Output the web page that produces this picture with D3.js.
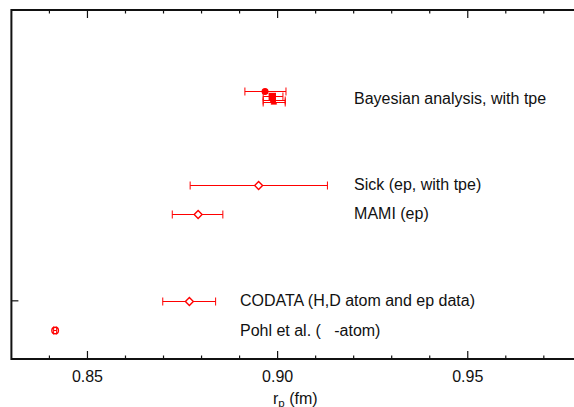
<!DOCTYPE html>
<html>
<head>
<meta charset="utf-8">
<script src="https://cdn.jsdelivr.net/npm/d3@7"></script>
<style>
  body { margin: 0; background: #fff; }
  text { font-family: "Liberation Sans", Arial, sans-serif; white-space: pre; }
</style>
</head>
<body>
<svg id="chart" width="574" height="407"></svg>
<script>
// measurements, rp in fm
var labels = ["Bayesian analysis, with tpe", "Sick (ep, with tpe)", "MAMI (ep)",
              "CODATA (H,D atom and ep data)", "Pohl et al. (\u00a0\u00a0\u00a0-atom)"];
var labelRow = [8.95, 6, 5, 2, 1];
var labelX = [0.9201, 0.9201, 0.9201, 0.8901, 0.8901];

var pointRow = [9.2, 9.05, 8.9, 8.82, 6, 5, 2, 1];
var pointVal = [0.8967, 0.8986, 0.8988, 0.8990, 0.8950, 0.8791, 0.8768, 0.8415];
var pointLo  = [0.8914, 0.8962, 0.8962, 0.8962, 0.8770, 0.8723, 0.8698, 0.8411];
var pointHi  = [0.9022, 0.9014, 0.9020, 0.9020, 0.9131, 0.8856, 0.8837, 0.8419];
var pointSym = ["circleFill", "squareFill", "tri", "tri", "diamond", "diamond", "diamond", "circle"];

var xMajor = [0.85, 0.90, 0.95];
var xMinor = [0.84, 0.85, 0.86, 0.87, 0.88, 0.89, 0.90, 0.91, 0.92, 0.93, 0.94, 0.95, 0.96, 0.97];
var yTicks = [2];

var svg = d3.select("#chart");
var padLeft = 11.4, padTop = 10, padBottom = 359;

var x = d3.scaleLinear().domain([0.83, 0.98]).range([padLeft, padLeft + 0.15 * 3803]);
var y = d3.scaleLinear().domain([0, 12]).range([padBottom, padTop]);

var red = "#ff0000";
var isMajor = d => xMajor.some(m => Math.abs(m - d) < 1e-9);

// frame
var frame = svg.append("g").attr("stroke", "#111").attr("fill", "none");
frame.append("path")
  .attr("stroke-width", 2)
  .attr("d", "M" + x(0.98) + "," + padTop + "H" + padLeft + "V" + padBottom + "H" + x(0.98));

// x ticks on bottom and top, pointing inward
frame.selectAll(".minb").data(xMinor).enter().append("line")
  .attr("x1", d => x(d)).attr("x2", d => x(d))
  .attr("y1", padBottom).attr("y2", d => padBottom - (isMajor(d) ? 8 : 3.5))
  .attr("stroke-width", 1.2);
frame.selectAll(".mint").data(xMinor).enter().append("line")
  .attr("x1", d => x(d)).attr("x2", d => x(d))
  .attr("y1", padTop).attr("y2", d => padTop + (isMajor(d) ? 8 : 3.5))
  .attr("stroke-width", 1.2);
frame.selectAll(".yt").data(yTicks).enter().append("line")
  .attr("x1", padLeft).attr("x2", padLeft + 7)
  .attr("y1", d => y(d)).attr("y2", d => y(d))
  .attr("stroke-width", 1.2);

svg.selectAll(".xl").data(xMajor).enter().append("text")
  .attr("x", d => x(d)).attr("y", 382)
  .attr("text-anchor", "middle")
  .attr("font-size", 16).attr("fill", "#111")
  .text(d => d3.format(".2f")(d));

var title = svg.append("text")
  .attr("x", 273).attr("y", 404)
  .attr("font-size", 16).attr("fill", "#111");
title.append("tspan").text("r");
title.append("tspan").attr("font-size", 11.5).attr("dy", 3).text("p");
title.append("tspan").attr("dy", -3).text(" (fm)");

// error bars
var pts = pointVal.map((v, i) => ({v: v, lo: pointLo[i], hi: pointHi[i], r: pointRow[i], s: pointSym[i]}));
var eb = svg.append("g").attr("stroke", red).attr("stroke-width", 1).attr("fill", "none");
pts.forEach(function(p) {
  var yy = Math.round(y(p.r)) + 0.5;
  eb.append("line").attr("x1", x(p.lo)).attr("x2", x(p.hi)).attr("y1", yy).attr("y2", yy);
  [p.lo, p.hi].forEach(function(e) {
    eb.append("line").attr("x1", x(e)).attr("x2", x(e)).attr("y1", yy - 4).attr("y2", yy + 4);
  });
});

// markers
var mk = svg.append("g").attr("stroke", red).attr("stroke-width", 1.4);
pts.forEach(function(p) {
  var cx = x(p.v), cy = Math.round(y(p.r)) + 0.5;
  if (p.s === "diamond") {
    mk.append("path").attr("fill", "#fff")
      .attr("d", d3.symbol(d3.symbolDiamond2, 40)()).attr("transform", "translate(" + cx + "," + cy + ")");
  } else if (p.s === "circle") {
    mk.append("circle").attr("cx", cx).attr("cy", cy).attr("r", 3.3).attr("fill", "none");
  } else if (p.s === "circleFill") {
    mk.append("circle").attr("cx", cx).attr("cy", cy).attr("r", 2.8).attr("fill", red);
  } else if (p.s === "squareFill") {
    mk.append("rect").attr("x", cx - 3).attr("y", cy - 3).attr("width", 6).attr("height", 6).attr("fill", red);
  } else {
    mk.append("path").attr("fill", red).attr("stroke-width", 0.8)
      .attr("d", d3.symbol(d3.symbolTriangle, 14)()).attr("transform", "translate(" + cx + "," + cy + ")");
  }
});

// labels
svg.selectAll(".lab").data(labels).enter().append("text")
  .attr("x", (d, i) => x(labelX[i])).attr("y", (d, i) => y(labelRow[i]))
  .attr("dy", "0.35em")
  .attr("font-size", 16).attr("fill", "#111")
  .text(d => d);
</script>
</body>
</html>
